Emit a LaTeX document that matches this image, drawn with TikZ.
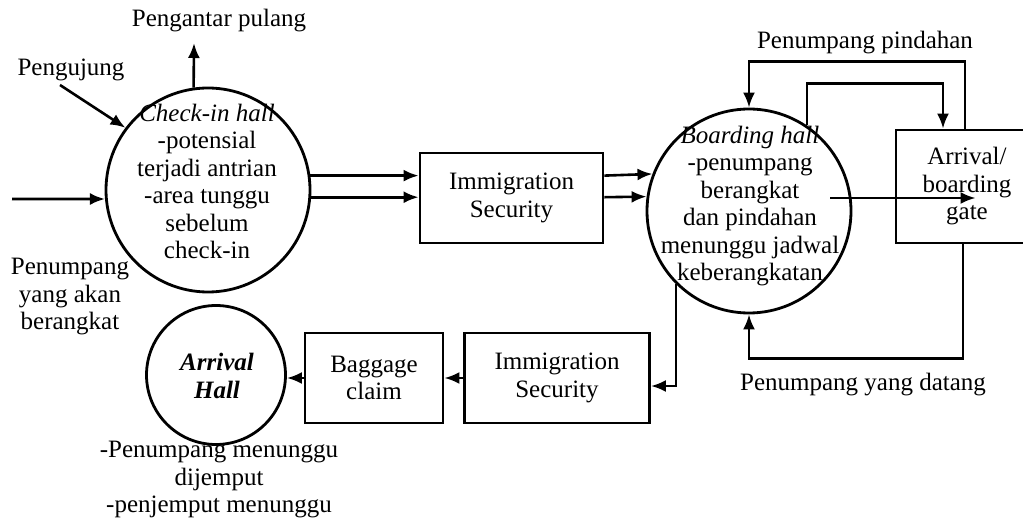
\documentclass[tikz,border=0pt]{standalone}
\usepackage{fontspec}
\setmainfont{Liberation Serif}
\usetikzlibrary{arrows.meta}
\begin{document}
\begin{tikzpicture}[x=1pt,y=-1pt,
  every node/.style={font=\fontsize{25}{27.5}\selectfont, inner sep=0pt, align=center},
  hall/.style={draw, circle, line width=2.8pt},
  stepbox/.style={draw, rectangle, line width=2.8pt},
  flow/.style={line width=2.6pt, -{Latex[length=15pt,width=12pt]}}]
\useasboundingbox (0,0) rectangle (1023,521);
\clip (0,0) rectangle (1023,521);
\fill[white] (0,0) rectangle (1023,521);

% halls
\node[hall, minimum size=204pt] (ci) at (208,190) {};
\node[hall, minimum size=204pt] (bh) at (749,211) {};
\node[hall, minimum size=139pt] (ah) at (216,375) {};

\node (cit) at (207,181.5) {\textit{Check-in hall}\\-potensial\\terjadi antrian\\-area tunggu\\sebelum\\check-in};
\node (bht) at (750,206) {\textit{Boarding hall}\\-penumpang\\berangkat\\dan pindahan\\menunggu jadwal\\keberangkatan};
\node[font=\fontsize{25}{27.5}\selectfont\bfseries\itshape] (aht) at (217,376) {Arrival\\Hall};

% process boxes
\node[stepbox, minimum width=183pt, minimum height=90pt] (im1) at (511.5,198) {Immigration\\Security};
\node[stepbox, minimum width=142pt, minimum height=113pt] (gate) at (967,186.5) {Arrival/\\boarding\\gate};
\node[stepbox, minimum width=138pt, minimum height=90pt] (bag) at (374,378) {Baggage\\claim};
\node[stepbox, minimum width=185pt, minimum height=90pt] (im2) at (557,378) {Immigration\\Security};

% labels
\node (pul) at (219,21) {Pengantar pulang};
\node (pgj) at (71,70) {Pengujung};
\node (dep) at (70,297) {Penumpang\\yang akan\\berangkat};
\node (pin) at (865,43) {Penumpang pindahan};
\node (dat) at (863,385) {Penumpang yang datang};
\node (wait) at (219,480) {-Penumpang menunggu\\dijemput\\-penjemput menunggu};

% free ends
\coordinate (pulEnd) at (194,43);
\coordinate (pgjStart) at (60,85);
\coordinate (depStart) at (12,199);

% departure side
\draw[flow] (ci.98) -- (pulEnd);
\draw[flow] (pgjStart) -- (ci.143);
\draw[flow] (depStart) -- (ci.185);
\draw[flow] (ci.8.5) -- (ci.8.5 -| im1.west);
\draw[flow] (ci.-4.5) -- (ci.-4.5 -| im1.west);
\draw[flow] (im1.east |- ci.8.5) -- (bh.159.3);
\draw[flow] (im1.east |- ci.-4.5) -- (bh.172.7);
\draw[flow] ([shift={(81,-13)}]bh.center) -- ([shift={(81,-13)}]bh.center -| gate.west);

% transfer loops
\draw[flow] ([xshift=-2pt]gate.north) -- ++(0,-67) -| (bh.north);
\draw[flow] (bh.56.7) |- ([xshift=-24pt,yshift=45pt]gate.north) -- ([xshift=-24pt]gate.north);

% arrival side
\draw[flow] ([xshift=-4pt]gate.south) -- ++(0,114) -| (bh.south);
\draw[flow] (bh.225) |- ([yshift=-8pt]im2.east);
\draw[flow] (im2.west) -- (bag.east);
\draw[flow] (bag.west) -- (bag.west -| ah.east);
\end{tikzpicture}
\end{document}
